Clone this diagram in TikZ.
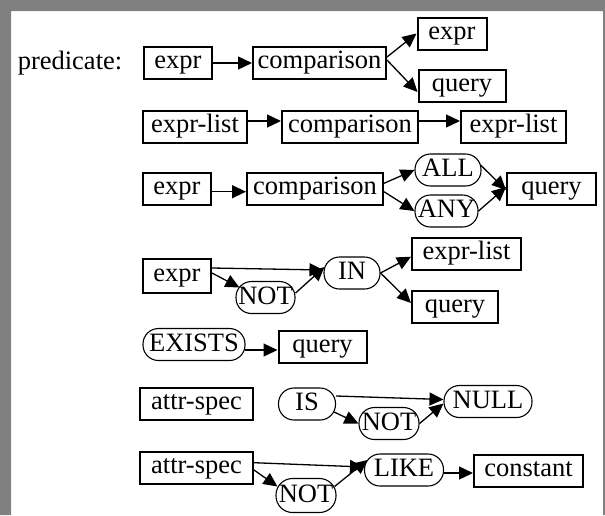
\documentclass[tikz,border=0pt]{standalone}
\usepackage{fontspec}
\setmainfont{Liberation Serif}
\usetikzlibrary{arrows.meta}
\definecolor{framegray}{RGB}{128,128,128}
\tikzset{
  box/.style={draw, line width=2pt, minimum height=32pt, inner sep=1pt, text height=17pt, text depth=6pt},
  pill/.style={draw, rounded corners=15.5pt, line width=1.1pt, minimum height=32pt, inner sep=0pt, text height=18pt, text depth=5pt},
  arr/.style={-{Triangle[length=14pt,width=13pt]}, line width=1.3pt},
}
\begin{document}
\begin{tikzpicture}[x=1pt, y=-1pt, font=\fontsize{26.5}{30}\selectfont]
  \useasboundingbox (0,0) rectangle (605,515);
  \fill[framegray] (0,0) rectangle (605,11) (0,0) rectangle (11,515) (603,0) rectangle (605,515);

  \node                           (pred)    at ( 70,  63)   {predicate:};
  \node[box, minimum width=68pt]  (ex1)     at (178,  63)   {expr};
  \node[box, minimum width=133pt] (cmp1)    at (319.5,63)   {comparison};
  \node[box, minimum width=69pt]  (ex1b)    at (452,  33.5) {expr};
  \node[box, minimum width=87pt]  (qu1)     at (462,  85.5) {query};

  \node[box, minimum width=104pt] (el2)     at (195,  127)  {expr-list};
  \node[box, minimum width=136pt] (cmp2)    at (350,  127)  {comparison};
  \node[box, minimum width=105pt] (el2b)    at (513.5,127)  {expr-list};

  \node[box, minimum width=68pt]  (ex3)     at (177,  189)  {expr};
  \node[box, minimum width=136pt] (cmp3)    at (315,  189)  {comparison};
  \node[pill, minimum width=66pt] (all3)    at (448,  170)  {ALL};
  \node[pill, minimum width=63pt] (any3)    at (446.5,211)  {ANY};
  \node[box, minimum width=89pt]  (qu3)     at (551.5,189)  {query};

  \node[box, minimum width=68pt, minimum height=34pt] (ex4) at (177, 276) {expr};
  \node[pill, minimum width=59pt] (not4)    at (265.5,297.5){NOT};
  \node[pill, minimum width=56pt] (in4)     at (352,  273)  {IN};
  \node[box, minimum width=109pt] (el4)     at (466.5,254)  {expr-list};
  \node[box, minimum width=86pt]  (qu4)     at (455,  306.5){query};

  \node[pill, minimum width=102pt] (exists5) at (194, 344.5) {EXISTS};
  \node[box, minimum width=88pt]  (qu5)     at (322.5,347)  {query};

  \node[box, minimum width=113pt] (as6)     at (196.5,404)  {attr-spec};
  \node[pill, minimum width=57pt] (is6)     at (307,  404)  {IS};
  \node[pill, minimum width=60pt] (not6)    at (389,  423.5){NOT};
  \node[pill, minimum width=88pt] (null6)   at (488,  401.5){NULL};

  \node[box, minimum width=113pt] (as7)     at (196.5,468)  {attr-spec};
  \node[pill, minimum width=60pt, minimum height=34pt, rounded corners=16.5pt] (not7) at (306, 495.5) {NOT};
  \node[pill, minimum width=79pt] (like7)   at (404,  470)  {LIKE};
  \node[box, minimum width=109pt] (con7)    at (528.5,471)  {constant};

  \draw[arr] (ex1) -- (cmp1);
  \draw[arr] ([yshift=6pt]cmp1.east) -- (ex1b.west);
  \draw[arr] ([yshift=3pt]cmp1.east) -- ([yshift=-6.5pt]qu1.west);

  \foreach \a/\b in {el2/cmp2, cmp2/el2b}{
    \draw[arr] ([yshift=6pt]\a.east) -- ([yshift=6pt]\b.west);
    };

  \draw[arr] ([yshift=-2.7pt]ex3.east) -- ([yshift=-2.7pt]cmp3.west);
  \draw[arr] ([yshift=5.7pt]cmp3.east) -- (all3.west);
  \draw[arr] ([yshift=-2.7pt]cmp3.east) -- (any3.west);
  \draw[arr] ([xshift=-1pt,yshift=5pt]all3.east) -- ([yshift=-1pt]qu3.west);
  \draw[arr] (any3.east) -- ([yshift=2pt]qu3.west);

  \draw[arr] ([yshift=8pt]ex4.east) -- ([yshift=3pt]in4.west);
  \draw[arr] ([yshift=3pt]ex4.east) -- ([xshift=4pt,yshift=10pt]not4.west);
  \draw[arr] ([yshift=4.5pt]not4.east) -- ([xshift=1pt,yshift=6pt]in4.west);
  \draw[arr] (in4.east) -- ([yshift=-2.7pt]el4.west);
  \draw[arr] (in4.east) -- ([yshift=3.5pt]qu4.west);

  \draw[arr] ([xshift=-1pt,yshift=-5.5pt]exists5.east) -- ([yshift=-3pt]qu5.west);

  \draw[arr] ([yshift=8pt]is6.east) -- ([yshift=2pt]null6.west);
  \draw[arr] ([xshift=-2pt,yshift=-8pt]is6.east) -- (not6.west);
  \draw[arr] (not6.east) -- ([yshift=-2pt]null6.west);

  \draw[arr] ([yshift=5.3pt]as7.east) -- ([yshift=3pt]like7.west);
  \draw[arr] ([yshift=-2pt]as7.east) -- ([xshift=2pt,yshift=9pt]not7.west);
  \draw[arr] ([xshift=-2pt,yshift=9pt]not7.east) -- ([xshift=3.5pt,yshift=10pt]like7.west);
  \draw[arr] ([yshift=-3pt]like7.east) -- ([yshift=-2pt]con7.west);
\end{tikzpicture}
\end{document}
